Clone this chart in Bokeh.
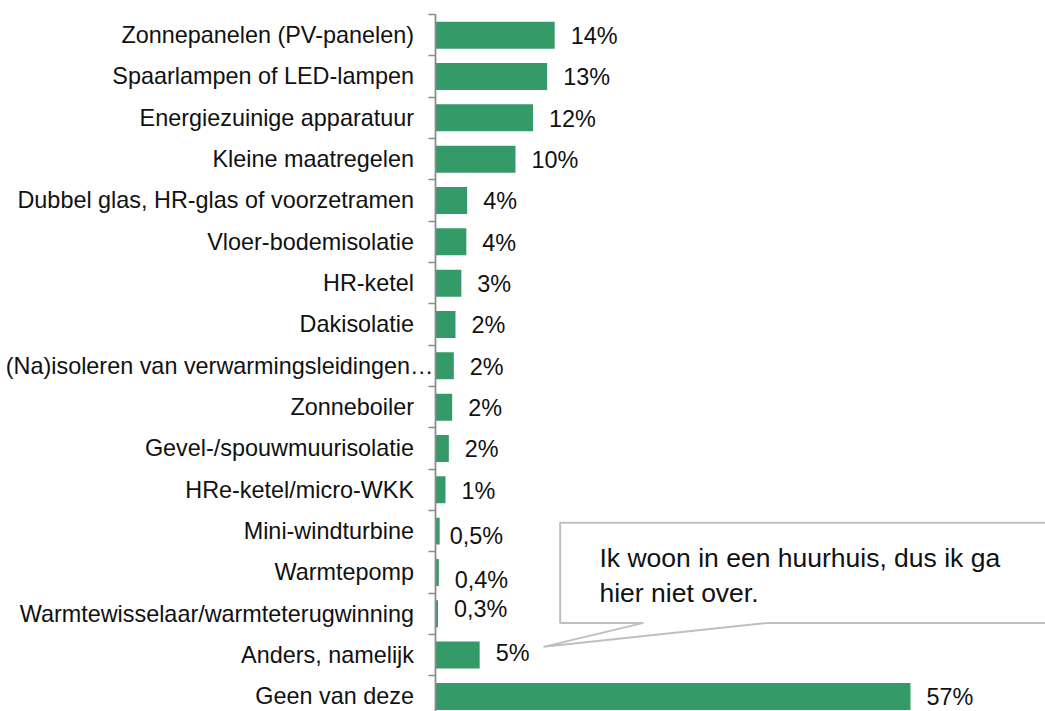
from bokeh.plotting import figure
from bokeh.models import Range1d, FixedTicker, ColumnDataSource
from bokeh.core.properties import value
from bokeh.embed import file_html
from bokeh.resources import INLINE

categories = [
    "Zonnepanelen (PV-panelen)",
    "Spaarlampen of LED-lampen",
    "Energiezuinige apparatuur",
    "Kleine maatregelen",
    "Dubbel glas, HR-glas of voorzetramen",
    "Vloer-bodemisolatie",
    "HR-ketel",
    "Dakisolatie",
    "(Na)isoleren van verwarmingsleidingen\u2026",
    "Zonneboiler",
    "Gevel-/spouwmuurisolatie",
    "HRe-ketel/micro-WKK",
    "Mini-windturbine",
    "Warmtepomp",
    "Warmtewisselaar/warmteterugwinning",
    "Anders, namelijk",
    "Geen van deze",
]
values = [14.3, 13.4, 11.7, 9.6, 3.8, 3.7, 3.1, 2.4, 2.2, 2.0, 1.6, 1.2, 0.5, 0.4, 0.3, 5.3, 57.0]
value_labels = ["14%", "13%", "12%", "10%", "4%", "4%", "3%", "2%", "2%", "2%", "2%", "1%",
                "0,5%", "0,4%", "0,3%", "5%", "57%"]
callout_lines = ["Ik woon in een huurhuis, dus ik ga", "hier niet over."]

FONT = "Liberation Sans"
BAR = "#349a67"
AXIS = "#8c8c8c"
TXT = "#111111"
FS = "23.4px"

# small label nudges (pixels), as placed in the reference to avoid overlaps
nudge = {12: (-6, 4), 13: (0, 7), 14: (0, -6), 15: (0, -3)}
# the truncated label reaches up to the axis; the others stop ~20px before it
PAD = "\u2002\u2004"

n = len(categories)
idx = list(range(n))
dx = [16 + nudge.get(i, (0, 0))[0] for i in idx]
dy = [1 + nudge.get(i, (0, 0))[1] for i in idx]

LEFT = 435
p = figure(width=1045, height=711, output_backend="svg", toolbar_location=None,
           x_range=Range1d(0, (1045 - LEFT) / 8.333), y_range=Range1d(-0.5 + 697 / 41.33, -0.5),
           x_axis_type=None, min_border_left=LEFT, min_border_right=0,
           min_border_top=14, min_border_bottom=0)
p.outline_line_color = None
p.grid.visible = False
p.background_fill_color = "white"

src = ColumnDataSource(dict(y=idx, v=values, lab=value_labels, dx=dx, dy=dy))
p.hbar(y="y", right="v", left=0, height=0.653, source=src,
       fill_color=BAR, line_color=None)
p.text(x="v", y="y", text="lab", source=src, x_offset="dx", y_offset="dy",
       text_baseline="middle", text_align="left",
       text_font=value(FONT), text_font_size=FS, text_color=TXT)

ax = p.yaxis[0]
ax.ticker = FixedTicker(ticks=idx, minor_ticks=[i - 0.5 for i in idx])
long_i = 8
ax.major_label_overrides = {i: (c if i == long_i else c + PAD) for i, c in enumerate(categories)}
ax.major_tick_line_color = None
ax.major_tick_out = 0
ax.major_tick_in = 0
ax.minor_tick_line_color = AXIS
ax.minor_tick_line_width = 1.5
ax.minor_tick_out = 7
ax.minor_tick_in = 0
ax.axis_line_color = AXIS
ax.axis_line_width = 1.8
ax.major_label_standoff = -5
ax.major_label_text_font = FONT
ax.major_label_text_font_size = FS
ax.major_label_text_color = TXT

# callout box pointing at the "Anders" bar
bx0, bx1, by0, by1 = 14.96, 80.0, 11.80, 14.22
p.patch(x=[bx0, bx1, bx1, 39.96, 12.96, 24.96, bx0],
        y=[by0, by0, by1, by1, 14.80, by1, by1],
        fill_color="white", line_color="#bfbfbf", line_width=2)
p.text(x=[19.68, 19.68], y=[12.64, 13.49], text=callout_lines,
       text_baseline="alphabetic", text_align="left",
       text_font=value(FONT), text_font_size="26.5px", text_color=TXT)

open("out.html", "w").write(file_html(p, INLINE))
